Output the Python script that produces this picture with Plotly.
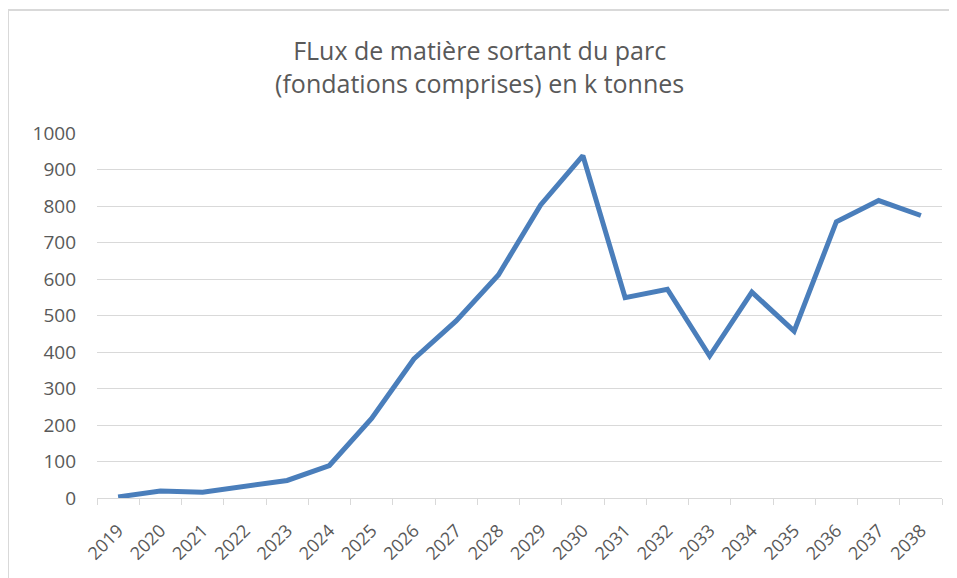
import plotly.graph_objects as go

# années (catégories) et flux sortant en k tonnes
annees = [str(a) for a in range(2019, 2039)]
flux_kt = [3, 19, 16, 33, 48, 89, 218, 381, 485, 611,
           803, 938, 549, 572, 389, 564, 457, 757, 815, 774]
y_ticks = [0, 100, 200, 300, 400, 500, 600, 700, 800, 900, 1000]

titre = "FLux de matière sortant du parc<br>(fondations comprises) en k tonnes"

gris_texte = "#595959"
gris_grille = "#d9d9d9"
bleu = "#4a7ebb"

# la page html a une marge de 8 px : on la compense
W, H = 949, 570
ML, MT, MR, MB = 89, 125, 15, 80
PW, PH = W - ML - MR, H - MT - MB

fig = go.Figure()

fig.add_trace(go.Scatter(
    x=annees,
    y=flux_kt,
    mode="lines",
    line=dict(color=bleu, width=5),
    showlegend=False,
))

# cadre du graphique (coin haut-gauche visible, le reste coupé)
fig.add_shape(
    type="rect", xref="paper", yref="paper",
    x0=(0 - ML) / PW, x1=1.2, y0=-0.4, y1=(PH + MT - 2) / PH,
    line=dict(color=gris_grille, width=2), layer="below",
)

fig.update_layout(
    width=W,
    height=H,
    margin=dict(l=ML, r=MR, t=MT, b=MB),
    paper_bgcolor="white",
    plot_bgcolor="white",
    title=dict(
        text=titre,
        x=0.497, xref="container", xanchor="center",
        y=0.908, yref="container", yanchor="top",
        font=dict(family="Open Sans, sans-serif", size=25, color=gris_texte),
    ),
    xaxis=dict(
        type="category",
        range=[-0.5, len(annees) - 0.5],
        tickangle=-45,
        tickson="boundaries",
        ticks="outside",
        ticklen=6,
        tickcolor=gris_grille,
        showline=True,
        linecolor=gris_grille,
        linewidth=1,
        showgrid=False,
        ticklabelstandoff=14,
        tickfont=dict(family="Open Sans, sans-serif", size=18, color=gris_texte),
    ),
    yaxis=dict(
        range=[0, 1000],
        tickvals=y_ticks,
        showgrid=True,
        gridcolor=gris_grille,
        gridwidth=1,
        zeroline=False,
        showline=False,
        ticks="",
        ticklabelstandoff=20,
        tickfont=dict(family="Open Sans, sans-serif", size=19, color=gris_texte),
    ),
)

fig.write_html("out.html")
